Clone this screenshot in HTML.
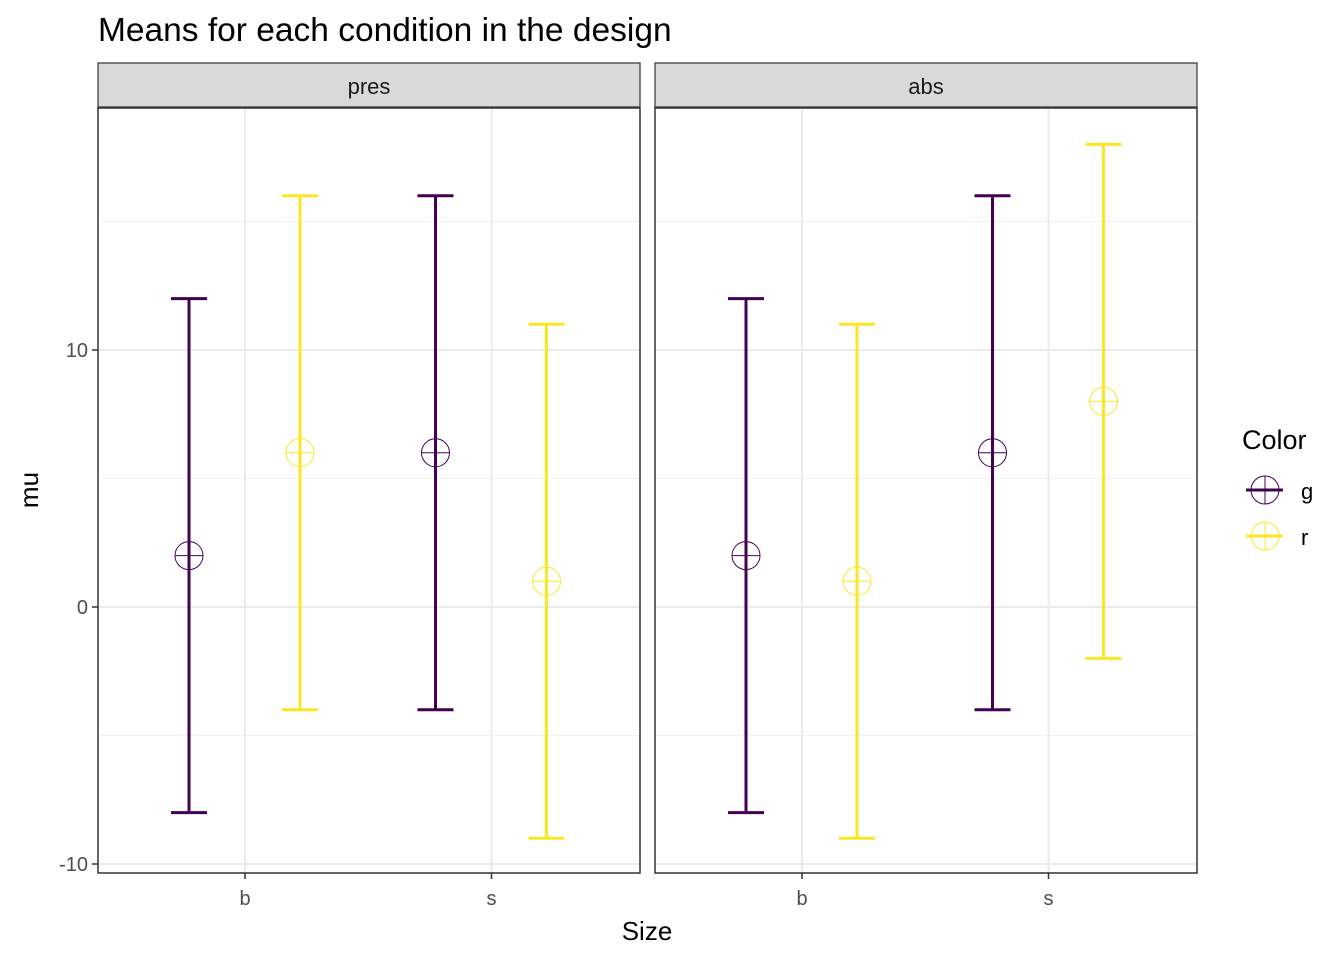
<!DOCTYPE html>
<html><head><meta charset="utf-8"><style>
body{margin:0;background:#fff}
text{font-family:"Liberation Sans",sans-serif}
</style></head><body>
<svg id="chart" width="1344" height="960" xmlns="http://www.w3.org/2000/svg">
<text x="98" y="41" font-size="33.5" fill="#000">Means for each condition in the design</text>
<text x="647" y="940" font-size="26" text-anchor="middle" fill="#000">Size</text>
<text x="38" y="490" font-size="26" text-anchor="middle" fill="#000" transform="rotate(-90 38 490)">mu</text>
<g id="panels"></g>
<g>
<text x="1242" y="449" font-size="27" fill="#000">Color</text>
<g>
<line x1="1246" y1="490" x2="1283" y2="490" stroke="#440154" stroke-width="3"/>
<circle cx="1265" cy="490" r="14" fill="none" stroke="#440154" stroke-width="1"/>
<line x1="1265" y1="476" x2="1265" y2="504" stroke="#440154" stroke-width="1"/>
<text x="1301" y="499" font-size="22" fill="#000">g</text></g>
<g>
<line x1="1246" y1="536" x2="1283" y2="536" stroke="#FDE725" stroke-width="3"/>
<circle cx="1265" cy="536" r="14" fill="none" stroke="#FDE725" stroke-width="1"/>
<line x1="1265" y1="522" x2="1265" y2="550" stroke="#FDE725" stroke-width="1"/>
<text x="1301" y="545" font-size="22" fill="#000">r</text></g>
</g>
</svg>
<script>
const panelNames = ["pres","abs"];
const sizes = ["b","s"];
const colorGroups = ["g","r"];
// means[panel][size][color]
const means = [[[2,6],[6,1]],[[2,1],[6,8]]];
const lowers = [[[-8,-4],[-4,-9]],[[-8,-9],[-4,-2]]];
const uppers = [[[12,16],[16,11]],[[12,11],[16,18]]];
const yTicks = [-10,0,10];
const yMinor = [-5,5,15];

const NS="http://www.w3.org/2000/svg";
const colors={g:"#440154",r:"#FDE725"};
const panelX=[98,655], panelW=542, plotTop=108, plotBottom=873;
function yS(v){return 607 - v*25.7;}
function xS(p,si,ci){return panelX[p] + 147 + si*246.5 + (ci===0?-56:55);}
function mk(tag,attrs,parent){const e=document.createElementNS(NS,tag);for(const k in attrs)e.setAttribute(k,attrs[k]);parent.appendChild(e);return e;}
const root=document.getElementById('panels');
panelNames.forEach((pn,p)=>{
  const g=mk('g',{},root);
  
  
  const x0=panelX[p];
  const strip=mk('rect',{x:x0,y:63,width:panelW,height:44,fill:"#d9d9d9",stroke:"#333","stroke-width":1.2},g);
  
  
  const st=mk('text',{x:x0+panelW/2,y:94,"font-size":22,"text-anchor":"middle",fill:"#1a1a1a"},g);st.textContent=pn;
  
  
  yMinor.forEach(v=>mk('line',{x1:x0,x2:x0+panelW,y1:yS(v),y2:yS(v),stroke:"#f0f0f0","stroke-width":1},g));
  yTicks.forEach(v=>mk('line',{x1:x0,x2:x0+panelW,y1:yS(v),y2:yS(v),stroke:"#ebebeb","stroke-width":2},g));
  sizes.forEach((s,si)=>{
    const xc=x0+147+si*246.5;
    mk('line',{x1:xc,x2:xc,y1:plotTop,y2:plotBottom,stroke:"#ebebeb","stroke-width":2},g);
    mk('line',{x1:xc,x2:xc,y1:plotBottom,y2:plotBottom+6,stroke:"#333","stroke-width":1.5},g);
    const t=mk('text',{x:xc,y:905,"font-size":20,"text-anchor":"middle",fill:"#4d4d4d"},g);t.textContent=s;
    
    
  });
  if(p===0){yTicks.forEach(v=>{
    mk('line',{x1:x0-6,x2:x0,y1:yS(v),y2:yS(v),stroke:"#333","stroke-width":1.5},g);
    const t=mk('text',{x:x0-10,y:yS(v)+7,"font-size":20,"text-anchor":"end",fill:"#4d4d4d"},g);t.textContent=v;
    
    
  });}
  sizes.forEach((s,si)=>colorGroups.forEach((c,ci)=>{
    const x=xS(p,si,ci), col=colors[c];
    const eb=mk('g',{stroke:col,fill:"none"},g);
    
    
    const lo=yS(lowers[p][si][ci]), hi=yS(uppers[p][si][ci]), m=yS(means[p][si][ci]);
    mk('line',{x1:x,x2:x,y1:hi,y2:lo,"stroke-width":3},eb);
    mk('line',{x1:x-18,x2:x+18,y1:hi,y2:hi,"stroke-width":3},eb);
    mk('line',{x1:x-18,x2:x+18,y1:lo,y2:lo,"stroke-width":3},eb);
    const pt=mk('g',{stroke:col,fill:"none","stroke-width":1},g);
    
    
    mk('circle',{cx:x,cy:m,r:14},pt);
    mk('line',{x1:x-14,x2:x+14,y1:m,y2:m},pt);
  }));
  mk('rect',{x:x0,y:plotTop,width:panelW,height:plotBottom-plotTop,fill:"none",stroke:"#333","stroke-width":1.5},g);
});
</script>
</body></html>
